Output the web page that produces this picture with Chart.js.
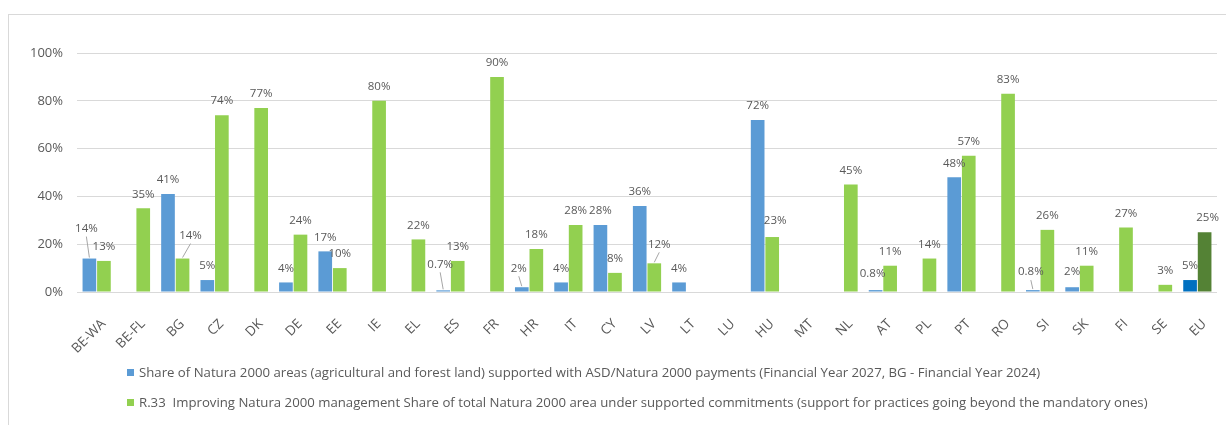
<!DOCTYPE html>
<html>
<head>
<meta charset="utf-8">
<script src="https://cdn.jsdelivr.net/npm/chart.js@4/dist/chart.umd.min.js"></script>
<style>
  html, body { margin: 0; padding: 0; background: #ffffff; }
  #wrap { position: relative; width: 1226px; height: 425px; overflow: hidden; }
  #frame { position: absolute; left: 8px; top: 14px; right: -2px; bottom: -2px;
           border-top: 1px solid #d9d9d9; border-left: 1px solid #d9d9d9; }
  #chart { position: absolute; left: 0; top: 0; }
  #legend { position: absolute; left: 127px; top: 362px; font-family: "Open Sans", sans-serif;
            font-size: 13.2px; color: #595959; }
  .item { display: flex; align-items: center; height: 20px; margin-bottom: 10px; white-space: pre; }
  .box { width: 7px; height: 7px; margin-right: 5px; flex: none; }
</style>
</head>
<body>
<div id="wrap">
  <div id="frame"></div>
  <canvas id="chart" width="1226" height="425"></canvas>
  <div id="legend"></div>
</div>
<script>
// Member states / regions shown on the x axis
const categories = ['BE-WA', 'BE-FL', 'BG', 'CZ', 'DK', 'DE', 'EE', 'IE', 'EL', 'ES', 'FR', 'HR', 'IT', 'CY',
  'LV', 'LT', 'LU', 'HU', 'MT', 'NL', 'AT', 'PL', 'PT', 'RO', 'SI', 'SK', 'FI', 'SE', 'EU'];

// Share of Natura 2000 areas supported with ASD/Natura 2000 payments (%)
const asdShare = [14, null, 41, 5, null, 4, 17, null, null, 0.7, null, 2, 4, 28,
  36, 4, null, 72, null, null, 0.8, null, 48, null, 0.8, 2, null, null, 5];

// R.33 share of total Natura 2000 area under supported commitments (%)
const r33Share = [13, 35, 14, 74, 77, 24, 10, 80, 22, 13, 90, 18, 28, 8,
  12, null, null, 23, null, 45, 11, 14, 57, 83, 26, 11, 27, 3, 25];

const yTicks = [0, 20, 40, 60, 80, 100];

const seriesNames = [
  'Share of Natura 2000 areas (agricultural and forest land) supported with ASD/Natura 2000 payments (Financial Year 2027, BG - Financial Year 2024)',
  'R.33  Improving Natura 2000 management Share of total Natura 2000 area under supported commitments (support for practices going beyond the mandatory ones)'
];

const BLUE = '#5b9bd5', BLUE_EU = '#0070c0';
const GREEN = '#92d050', GREEN_EU = '#548235';
const TEXT = '#595959';

// EU aggregate bars use the darker shade
const colorsFor = (base, euColor) => categories.map(c => (c === 'EU' ? euColor : base));

// Manually nudged value labels (dataset index -> category -> shift in px, optional leader line)
const labelNudges = {
  0: { 'BE-WA': { dx: -3, dy: -16, leader: true }, 'ES': { dx: -3, dy: -12, leader: true },
       'HR': { dx: -3, dy: -5, leader: true }, 'AT': { dx: -3, dy: -2 },
       'SI': { dx: -2, dy: -4, leader: true }, 'SK': { dx: 0, dy: -2 } },
  1: { 'BG': { dx: 8, dy: -9, leader: true }, 'LV': { dx: 5, dy: -5, leader: true },
       'HU': { dx: 3, dy: -2 }, 'EU': { dx: 3, dy: -1 } }
};

const fmtPct = v => v + '%';

const valueLabels = {
  id: 'valueLabels',
  afterDatasetsDraw(chart) {
    const ctx = chart.ctx;
    ctx.save();
    ctx.font = '11.5px "Open Sans", sans-serif';
    ctx.fillStyle = TEXT;
    ctx.textAlign = 'center';
    ctx.textBaseline = 'middle';
    chart.data.datasets.forEach((ds, di) => {
      const meta = chart.getDatasetMeta(di);
      meta.data.forEach((bar, i) => {
        const v = ds.data[i];
        if (v === null || v === undefined) return;
        const n = (labelNudges[di] || {})[categories[i]] || { dx: 0, dy: 0 };
        const lx = bar.x + n.dx;
        const ly = bar.y - 14 + n.dy;
        if (n.leader) {
          ctx.strokeStyle = '#a6a6a6';
          ctx.lineWidth = 1;
          ctx.beginPath();
          ctx.moveTo(lx, ly + 8);
          ctx.lineTo(bar.x, bar.y - 1);
          ctx.stroke();
        }
        ctx.fillText(fmtPct(v), lx, ly);
      });
    });
    ctx.restore();
  }
};

const chart = new Chart(document.getElementById('chart'), {
  type: 'bar',
  data: {
    labels: categories,
    datasets: [
      { label: seriesNames[0], data: asdShare, backgroundColor: colorsFor(BLUE, BLUE_EU),
        categoryPercentage: 0.74, barPercentage: 0.94 },
      { label: seriesNames[1], data: r33Share, backgroundColor: colorsFor(GREEN, GREEN_EU),
        categoryPercentage: 0.74, barPercentage: 0.94 }
    ]
  },
  options: {
    responsive: false,
    animation: false,
    devicePixelRatio: 1,
    layout: { padding: { left: 0, right: 9, top: 53, bottom: 0 } },
    plugins: { legend: { display: false }, tooltip: { enabled: false } },
    scales: {
      x: {
        grid: { display: false },
        border: { display: false },
        ticks: {
          color: TEXT, font: { family: '"Open Sans", sans-serif', size: 13.5 },
          minRotation: 45, maxRotation: 45, autoSkip: false, padding: 16, labelOffset: 7
        },
        afterFit(s) { s.height = 133; }
      },
      y: {
        min: 0, max: 100,
        afterBuildTicks(s) { s.ticks = yTicks.map(v => ({ value: v })); },
        grid: { color: '#d9d9d9', lineWidth: 1, drawTicks: false },
        border: { display: false },
        ticks: { color: TEXT, font: { family: '"Open Sans", sans-serif', size: 13 }, padding: 14,
                 callback: v => fmtPct(v) },
        afterFit(s) { s.width = 77; }
      }
    }
  },
  plugins: [valueLabels]
});

// Legend: one series per line, built from the datasets
const legend = document.getElementById('legend');
chart.data.datasets.forEach(ds => {
  const row = document.createElement('div');
  row.className = 'item';
  const box = document.createElement('span');
  box.className = 'box';
  box.style.background = Array.isArray(ds.backgroundColor) ? ds.backgroundColor[0] : ds.backgroundColor;
  const txt = document.createElement('span');
  txt.textContent = ds.label;
  row.appendChild(box);
  row.appendChild(txt);
  legend.appendChild(row);
});
</script>
</body>
</html>
